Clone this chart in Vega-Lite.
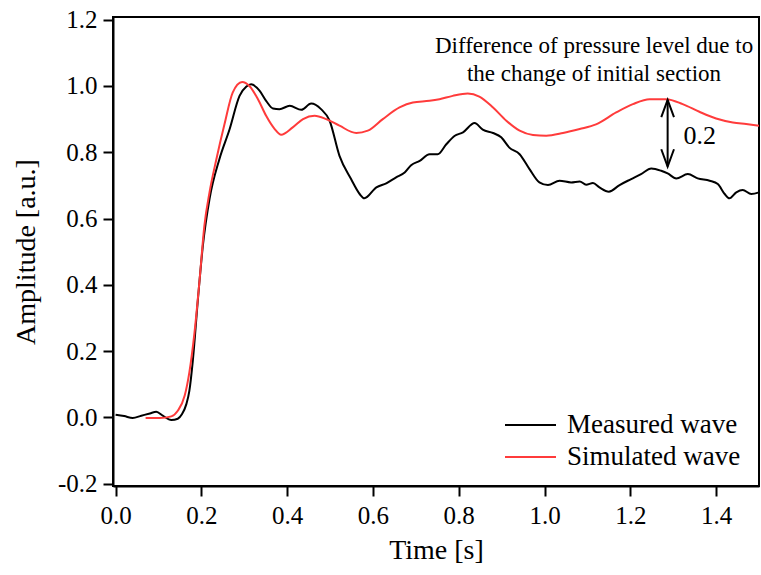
{
  "$schema": "https://vega.github.io/schema/vega-lite/v6.json",
  "width": 646,
  "height": 469,
  "autosize": {"type": "none"},
  "padding": {"left": 113, "top": 17, "right": 2, "bottom": 89},
  "background": "white",
  "config": {
    "view": {"stroke": "black", "strokeWidth": 2},
    "font": "Liberation Serif",
    "axis": {
      "grid": false,
      "domainColor": "black",
      "domainWidth": 2,
      "tickColor": "black",
      "tickWidth": 2,
      "tickSize": 10,
      "labelFont": "Liberation Serif",
      "labelFontSize": 25,
      "labelColor": "black",
      "titleFont": "Liberation Serif",
      "titleFontSize": 28,
      "titleFontWeight": "normal",
      "titleColor": "black"
    },
    "legend": {
      "labelFont": "Liberation Serif",
      "labelFontSize": 27,
      "labelColor": "black",
      "labelLimit": 0
    }
  },
  "datasets": {
    "waves": [
      {"series": "Measured wave", "t": 0, "a": 0.008},
      {"series": "Measured wave", "t": 0.02, "a": 0.004},
      {"series": "Measured wave", "t": 0.04, "a": -0.002},
      {"series": "Measured wave", "t": 0.06, "a": 0.005},
      {"series": "Measured wave", "t": 0.08, "a": 0.012},
      {"series": "Measured wave", "t": 0.095, "a": 0.017},
      {"series": "Measured wave", "t": 0.11, "a": 0.005},
      {"series": "Measured wave", "t": 0.13, "a": -0.008},
      {"series": "Measured wave", "t": 0.145, "a": -0.004},
      {"series": "Measured wave", "t": 0.155, "a": 0.01},
      {"series": "Measured wave", "t": 0.165, "a": 0.04},
      {"series": "Measured wave", "t": 0.172, "a": 0.08},
      {"series": "Measured wave", "t": 0.18, "a": 0.17},
      {"series": "Measured wave", "t": 0.192, "a": 0.357},
      {"series": "Measured wave", "t": 0.2035, "a": 0.518},
      {"series": "Measured wave", "t": 0.219, "a": 0.659},
      {"series": "Measured wave", "t": 0.242, "a": 0.779},
      {"series": "Measured wave", "t": 0.266, "a": 0.87},
      {"series": "Measured wave", "t": 0.289, "a": 0.97},
      {"series": "Measured wave", "t": 0.305, "a": 0.998},
      {"series": "Measured wave", "t": 0.316, "a": 1.005},
      {"series": "Measured wave", "t": 0.336, "a": 0.985},
      {"series": "Measured wave", "t": 0.351, "a": 0.955},
      {"series": "Measured wave", "t": 0.367, "a": 0.932},
      {"series": "Measured wave", "t": 0.382, "a": 0.93},
      {"series": "Measured wave", "t": 0.406, "a": 0.94},
      {"series": "Measured wave", "t": 0.433, "a": 0.928},
      {"series": "Measured wave", "t": 0.456, "a": 0.947},
      {"series": "Measured wave", "t": 0.479, "a": 0.93},
      {"series": "Measured wave", "t": 0.499, "a": 0.895},
      {"series": "Measured wave", "t": 0.522, "a": 0.789},
      {"series": "Measured wave", "t": 0.549, "a": 0.719},
      {"series": "Measured wave", "t": 0.569, "a": 0.674},
      {"series": "Measured wave", "t": 0.58, "a": 0.661},
      {"series": "Measured wave", "t": 0.608, "a": 0.694},
      {"series": "Measured wave", "t": 0.631, "a": 0.706},
      {"series": "Measured wave", "t": 0.654, "a": 0.724},
      {"series": "Measured wave", "t": 0.674, "a": 0.739},
      {"series": "Measured wave", "t": 0.689, "a": 0.761},
      {"series": "Measured wave", "t": 0.709, "a": 0.774},
      {"series": "Measured wave", "t": 0.732, "a": 0.794},
      {"series": "Measured wave", "t": 0.751, "a": 0.794},
      {"series": "Measured wave", "t": 0.771, "a": 0.824},
      {"series": "Measured wave", "t": 0.79, "a": 0.849},
      {"series": "Measured wave", "t": 0.81, "a": 0.86},
      {"series": "Measured wave", "t": 0.837, "a": 0.888},
      {"series": "Measured wave", "t": 0.856, "a": 0.868},
      {"series": "Measured wave", "t": 0.88, "a": 0.858},
      {"series": "Measured wave", "t": 0.899, "a": 0.845},
      {"series": "Measured wave", "t": 0.918, "a": 0.814},
      {"series": "Measured wave", "t": 0.942, "a": 0.794},
      {"series": "Measured wave", "t": 0.965, "a": 0.749},
      {"series": "Measured wave", "t": 0.988, "a": 0.709},
      {"series": "Measured wave", "t": 1.008, "a": 0.701},
      {"series": "Measured wave", "t": 1.035, "a": 0.714},
      {"series": "Measured wave", "t": 1.062, "a": 0.709},
      {"series": "Measured wave", "t": 1.082, "a": 0.712},
      {"series": "Measured wave", "t": 1.097, "a": 0.702},
      {"series": "Measured wave", "t": 1.113, "a": 0.707},
      {"series": "Measured wave", "t": 1.128, "a": 0.694},
      {"series": "Measured wave", "t": 1.15, "a": 0.681},
      {"series": "Measured wave", "t": 1.175, "a": 0.701},
      {"series": "Measured wave", "t": 1.202, "a": 0.719},
      {"series": "Measured wave", "t": 1.225, "a": 0.734},
      {"series": "Measured wave", "t": 1.249, "a": 0.751},
      {"series": "Measured wave", "t": 1.272, "a": 0.744},
      {"series": "Measured wave", "t": 1.287, "a": 0.736},
      {"series": "Measured wave", "t": 1.307, "a": 0.721},
      {"series": "Measured wave", "t": 1.334, "a": 0.734},
      {"series": "Measured wave", "t": 1.357, "a": 0.721},
      {"series": "Measured wave", "t": 1.385, "a": 0.714},
      {"series": "Measured wave", "t": 1.404, "a": 0.704},
      {"series": "Measured wave", "t": 1.42, "a": 0.674},
      {"series": "Measured wave", "t": 1.431, "a": 0.661},
      {"series": "Measured wave", "t": 1.447, "a": 0.679},
      {"series": "Measured wave", "t": 1.462, "a": 0.686},
      {"series": "Measured wave", "t": 1.482, "a": 0.674},
      {"series": "Measured wave", "t": 1.5, "a": 0.679},
      {"series": "Simulated wave", "t": 0.07, "a": -0.002},
      {"series": "Simulated wave", "t": 0.103, "a": -0.002},
      {"series": "Simulated wave", "t": 0.13, "a": 0.003},
      {"series": "Simulated wave", "t": 0.145, "a": 0.02},
      {"series": "Simulated wave", "t": 0.161, "a": 0.065},
      {"series": "Simulated wave", "t": 0.172, "a": 0.136},
      {"series": "Simulated wave", "t": 0.184, "a": 0.256},
      {"series": "Simulated wave", "t": 0.196, "a": 0.417},
      {"series": "Simulated wave", "t": 0.207, "a": 0.578},
      {"series": "Simulated wave", "t": 0.219, "a": 0.679},
      {"series": "Simulated wave", "t": 0.235, "a": 0.779},
      {"series": "Simulated wave", "t": 0.254, "a": 0.885},
      {"series": "Simulated wave", "t": 0.273, "a": 0.98},
      {"series": "Simulated wave", "t": 0.295, "a": 1.012},
      {"series": "Simulated wave", "t": 0.312, "a": 1.0},
      {"series": "Simulated wave", "t": 0.332, "a": 0.96},
      {"series": "Simulated wave", "t": 0.351, "a": 0.91},
      {"series": "Simulated wave", "t": 0.371, "a": 0.87},
      {"series": "Simulated wave", "t": 0.386, "a": 0.853},
      {"series": "Simulated wave", "t": 0.413, "a": 0.875},
      {"series": "Simulated wave", "t": 0.437, "a": 0.9},
      {"series": "Simulated wave", "t": 0.464, "a": 0.91},
      {"series": "Simulated wave", "t": 0.491, "a": 0.9},
      {"series": "Simulated wave", "t": 0.522, "a": 0.88},
      {"series": "Simulated wave", "t": 0.561, "a": 0.858},
      {"series": "Simulated wave", "t": 0.588, "a": 0.865},
      {"series": "Simulated wave", "t": 0.623, "a": 0.9},
      {"series": "Simulated wave", "t": 0.662, "a": 0.935},
      {"series": "Simulated wave", "t": 0.693, "a": 0.95},
      {"series": "Simulated wave", "t": 0.732, "a": 0.955},
      {"series": "Simulated wave", "t": 0.755, "a": 0.96},
      {"series": "Simulated wave", "t": 0.786, "a": 0.97},
      {"series": "Simulated wave", "t": 0.821, "a": 0.977},
      {"series": "Simulated wave", "t": 0.848, "a": 0.968},
      {"series": "Simulated wave", "t": 0.88, "a": 0.935},
      {"series": "Simulated wave", "t": 0.911, "a": 0.895},
      {"series": "Simulated wave", "t": 0.942, "a": 0.865},
      {"series": "Simulated wave", "t": 0.973, "a": 0.852},
      {"series": "Simulated wave", "t": 1.004, "a": 0.85},
      {"series": "Simulated wave", "t": 1.043, "a": 0.858},
      {"series": "Simulated wave", "t": 1.082, "a": 0.87},
      {"series": "Simulated wave", "t": 1.12, "a": 0.884},
      {"series": "Simulated wave", "t": 1.167, "a": 0.92},
      {"series": "Simulated wave", "t": 1.206, "a": 0.945},
      {"series": "Simulated wave", "t": 1.245, "a": 0.96},
      {"series": "Simulated wave", "t": 1.284, "a": 0.96},
      {"series": "Simulated wave", "t": 1.322, "a": 0.945},
      {"series": "Simulated wave", "t": 1.361, "a": 0.922},
      {"series": "Simulated wave", "t": 1.4, "a": 0.902},
      {"series": "Simulated wave", "t": 1.439, "a": 0.89},
      {"series": "Simulated wave", "t": 1.47, "a": 0.885},
      {"series": "Simulated wave", "t": 1.5, "a": 0.88}
    ]
  },
  "layer": [
    {
      "data": {"name": "waves"},
      "mark": {"type": "line", "interpolate": "monotone", "strokeWidth": 2},
      "encoding": {
        "x": {
          "field": "t", "type": "quantitative",
          "scale": {"domain": [-0.006, 1.5], "nice": false, "zero": false},
          "axis": {"title": "Time [s]", "values": [0, 0.2, 0.4, 0.6, 0.8, 1.0, 1.2, 1.4], "format": ".1f", "labelPadding": 7, "titlePadding": 8}
        },
        "y": {
          "field": "a", "type": "quantitative",
          "scale": {"domain": [-0.207, 1.208], "nice": false, "zero": false},
          "axis": {"title": "Amplitude [a.u.]", "values": [-0.2, 0, 0.2, 0.4, 0.6, 0.8, 1.0, 1.2], "format": ".1f", "labelExpr": "replace(datum.label, '\u2212', '-')", "labelPadding": 6, "titlePadding": 17}
        },
        "color": {
          "field": "series", "type": "nominal",
          "scale": {"domain": ["Measured wave", "Simulated wave"], "range": ["black", "#ff3b3b"]},
          "legend": {
            "title": null,
            "orient": "none",
            "legendX": 404,
            "legendY": 394.5,
            "padding": 0,
            "symbolType": "M-3,0H3",
            "symbolSize": 289,
            "symbolStrokeWidth": 2,
            "rowPadding": 4,
            "labelOffset": 23
          }
        }
      }
    },
    {
      "data": {"values": [{"t": 1.287, "lo": 0.757, "hi": 0.958}]},
      "mark": {"type": "rule", "color": "black", "strokeWidth": 2},
      "encoding": {
        "x": {"field": "t", "type": "quantitative"},
        "y": {"field": "lo", "type": "quantitative"},
        "y2": {"field": "hi"}
      }
    },
    {
      "data": {"values": [
        {"head": "top", "t": 1.2722, "a": 0.906},
        {"head": "top", "t": 1.287, "a": 0.958},
        {"head": "top", "t": 1.3018, "a": 0.906},
        {"head": "bottom", "t": 1.2722, "a": 0.809},
        {"head": "bottom", "t": 1.287, "a": 0.757},
        {"head": "bottom", "t": 1.3018, "a": 0.809}
      ]},
      "mark": {"type": "line", "color": "black", "strokeWidth": 2},
      "encoding": {
        "x": {"field": "t", "type": "quantitative"},
        "y": {"field": "a", "type": "quantitative"},
        "detail": {"field": "head"}
      }
    },
    {
      "data": {"values": [{"t": 1.1154, "a": 1.1205, "label": ["Difference of pressure level due to", "the change of initial section"]}]},
      "mark": {"type": "text", "font": "Liberation Serif", "fontSize": 23, "lineHeight": 28, "align": "center", "baseline": "middle", "color": "black"},
      "encoding": {
        "x": {"field": "t", "type": "quantitative"},
        "y": {"field": "a", "type": "quantitative"},
        "text": {"field": "label"}
      }
    },
    {
      "data": {"values": [{"t": 1.324, "a": 0.8495, "label": "0.2"}]},
      "mark": {"type": "text", "font": "Liberation Serif", "fontSize": 26, "align": "left", "baseline": "middle", "color": "black"},
      "encoding": {
        "x": {"field": "t", "type": "quantitative"},
        "y": {"field": "a", "type": "quantitative"},
        "text": {"field": "label"}
      }
    }
  ]
}
